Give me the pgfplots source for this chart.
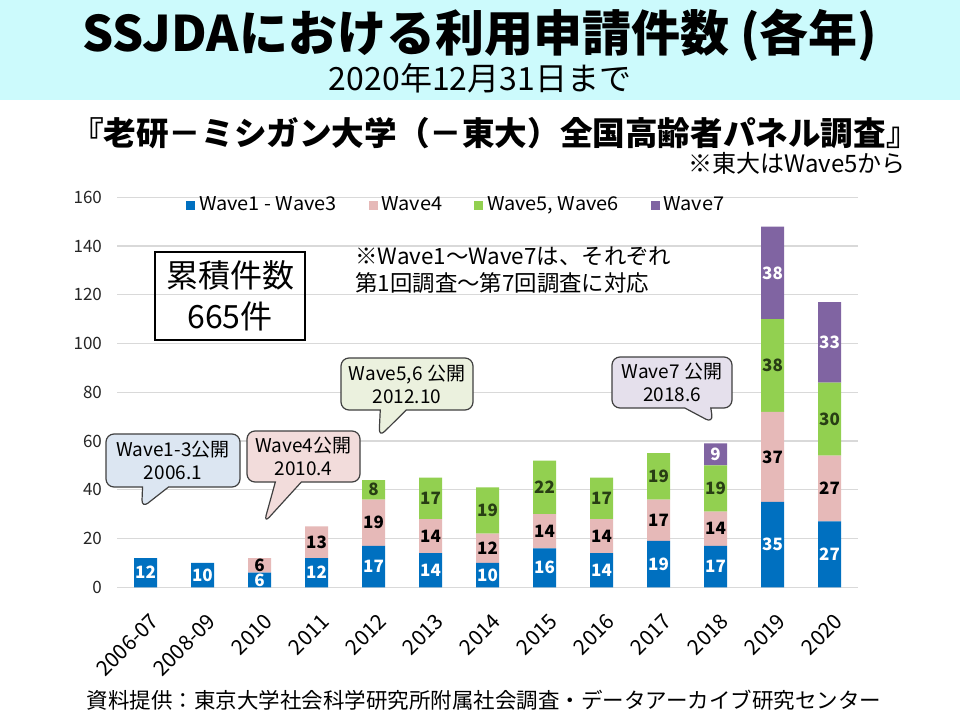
\documentclass[border=0pt]{standalone}
\usepackage{pgfplots}
\pgfplotsset{compat=1.18}
\usepackage{pgfplotstable}
\usepackage{fontspec}
\setmainfont{Noto Sans CJK JP}
\newfontfamily\widefont[FakeStretch=1.05]{Noto Sans CJK JP}
\usetikzlibrary{shapes.callouts}
\definecolor{cW1}{RGB}{0,112,192}
\definecolor{cW4}{RGB}{230,185,184}
\definecolor{cW56}{RGB}{146,208,80}
\definecolor{cW7}{RGB}{128,100,162}
\definecolor{band}{RGB}{204,250,252}
\definecolor{cb1}{RGB}{220,230,242}
\definecolor{cb2}{RGB}{242,220,219}
\definecolor{cb3}{RGB}{235,241,222}
\definecolor{cb4}{RGB}{229,224,236}
\definecolor{gridc}{RGB}{217,217,217}
\definecolor{gtext}{RGB}{40,62,20}

\pgfplotstableread{
x w1 w4 w56 w7
0 12 0 0 0
1 10 0 0 0
2 6 6 0 0
3 12 13 0 0
4 17 19 8 0
5 14 14 17 0
6 10 12 19 0
7 16 14 22 0
8 14 14 17 0
9 19 17 19 0
10 17 14 19 9
11 35 37 38 38
12 27 27 30 33
}\datatable

\newcommand{\seglabel}{\ifdim\myval pt>0pt \pgfmathprintnumber[fixed,precision=0]{\myval}\fi}

\begin{document}
\begin{tikzpicture}
\path[use as bounding box] (0pt,0pt) rectangle (480pt,360pt);
\fill[white] (0pt,0pt) rectangle (480pt,360pt);
\fill[band] (0pt,310pt) rectangle (480pt,360pt);
\node[font=\fontsize{24.5}{30}\selectfont\bfseries] at (240pt,342.5pt) {SSJDAにおける利用申請件数 (各年)};
\node[font=\fontsize{16}{18}\selectfont] at (240pt,321pt) {2020年12月31日まで};
\node[font=\fontsize{16.3}{18}\selectfont\bfseries] at (247.5pt,293.5pt) {『老研－ミシガン大学（－東大）全国高齢者パネル調査』};
\node[font=\fontsize{12}{14}\selectfont, anchor=east, inner sep=0pt] at (453pt,278.5pt) {※東大はWave5から};

\begin{axis}[at={(58.5pt,66.35pt)}, anchor=south west, scale only axis,
  width=370.5pt, height=195pt,
  ybar stacked, bar width=11.5pt,
  xmin=-0.5, xmax=12.5, ymin=0, ymax=160,
  ytick={0,20,...,160}, xtick={0,...,12},
  xticklabels={2006-07,2008-09,2010,2011,2012,2013,2014,2015,2016,2017,2018,2019,2020},
  axis line style={draw=none},
  tick style={draw=none},
  ymajorgrids, grid style={gridc, line width=0.6pt},
  /pgf/number format/assume math mode=true,
  yticklabel style={font=\fontsize{8.5}{10}\selectfont, text=black!85, xshift=-4pt},
  xticklabel style={font=\fontsize{10.5}{12}\selectfont, rotate=45, anchor=east, yshift=-14pt, xshift=-4pt},
  legend style={at={(0.085,0.98)}, anchor=west, draw=none, fill=none,
    legend columns=4, font=\fontsize{9.5}{12}\selectfont\widefont,
    /tikz/every even column/.append style={column sep=14pt}},
  legend image code/.code={\fill[#1] (0pt,-2.2pt) rectangle (4.4pt,2.2pt);},
  nodes near coords align={center},
]
\addplot[fill=cW1, draw=none,
  visualization depends on={\thisrow{w1} \as \myval},
  nodes near coords={\seglabel},
  every node near coord/.append style={text=white, anchor=center, font=\fontsize{8.5}{10}\selectfont\bfseries}]
  table[x=x,y=w1]{\datatable};
\addplot[fill=cW4, draw=none,
  visualization depends on={\thisrow{w4} \as \myval},
  nodes near coords={\seglabel},
  every node near coord/.append style={text=black, anchor=center, font=\fontsize{8.5}{10}\selectfont\bfseries}]
  table[x=x,y=w4]{\datatable};
\addplot[fill=cW56, draw=none,
  visualization depends on={\thisrow{w56} \as \myval},
  nodes near coords={\seglabel},
  every node near coord/.append style={text=gtext, anchor=center, font=\fontsize{8.5}{10}\selectfont\bfseries}]
  table[x=x,y=w56]{\datatable};
\addplot[fill=cW7, draw=none,
  visualization depends on={\thisrow{w7} \as \myval},
  nodes near coords={\seglabel},
  every node near coord/.append style={text=white, anchor=center, font=\fontsize{8.5}{10}\selectfont\bfseries}]
  table[x=x,y=w7]{\datatable};
\legend{Wave1 - Wave3, Wave4, {Wave5, Wave6}, Wave7}
\end{axis}

% cumulative box
\draw[black, line width=0.6pt] (77.5pt,190pt) rectangle (152.5pt,234pt);
\node[font=\fontsize{16}{20.5}\selectfont, align=center] at (115pt,212pt) {累積件数\\665件};
% note
\node[font=\fontsize{11.2}{13.5}\selectfont, align=left, anchor=north west, inner sep=0pt] at (177.5pt,237pt) {※Wave1～Wave7は、それぞれ\\第1回調査～第7回調査に対応};

% callouts
\tikzset{co/.style={rectangle callout, rounded corners=4pt, draw=black!75, line width=0.6pt,
  align=center, inner sep=1pt, font=\fontsize{9.5}{11.5}\selectfont, callout pointer width=13pt}}
\node[co, fill=cb1, minimum width=67pt, minimum height=26.5pt, callout absolute pointer={(70.85pt,106pt)}] at (86.5pt,129.75pt) {Wave1-3公開\\2006.1};
\node[co, fill=cb2, minimum width=56.5pt, minimum height=25.5pt, callout absolute pointer={(132pt,98.5pt)}] at (151.75pt,131.75pt) {Wave4公開\\2010.4};
\node[co, fill=cb3, minimum width=66pt, minimum height=26pt, callout absolute pointer={(189.5pt,141.5pt)}] at (203.5pt,168pt) {Wave5,6 公開\\2012.10};
\node[co, fill=cb4, minimum width=60pt, minimum height=25.5pt, callout absolute pointer={(356.5pt,148.5pt)}] at (336pt,168.75pt) {Wave7 公開\\2018.6};

\node[font=\fontsize{10.75}{13}\selectfont] at (242pt,10pt) {資料提供：東京大学社会科学研究所附属社会調査・データアーカイブ研究センター};
\end{tikzpicture}
\end{document}
